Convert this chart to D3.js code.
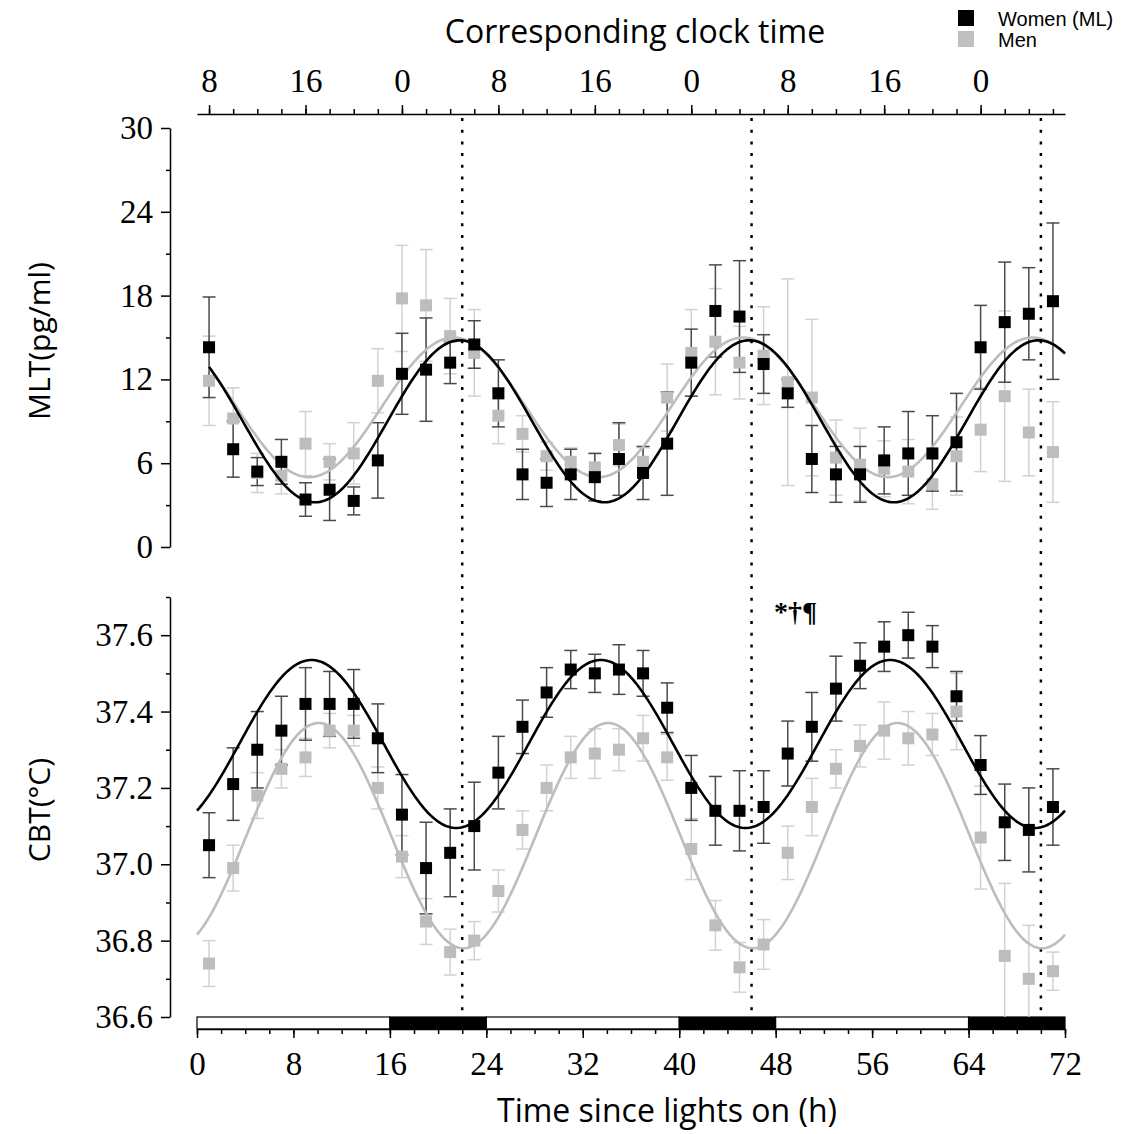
<!DOCTYPE html>
<html>
<head>
<meta charset="utf-8">
<script src="https://cdn.jsdelivr.net/npm/d3@7"></script>
<style>
  body { margin: 0; background: #fff; }
  text { fill: #000; }
</style>
</head>
<body>
<svg id="chart" width="1135" height="1134"></svg>
<script>
// sampling times (h since lights on)
const timePoints = [1,3,5,7,9,11,13,15,17,19,21,23,25,27,29,31,33,35,37,39,41,43,45,47,49,51,53,55,57,59,61,63,65,67,69,71];

// melatonin (pg/ml), mean and SE
const mltWomen   = [14.3,7.0,5.4,6.1,3.4,4.1,3.3,6.2,12.4,12.7,13.2,14.5,11.0,5.2,4.6,5.2,5.0,6.3,5.3,7.4,13.2,16.9,16.5,13.1,11.0,6.3,5.2,5.2,6.2,6.7,6.7,7.5,14.3,16.1,16.7,17.6];
const mltWomenSE = [3.6,2.0,1.0,1.6,1.2,2.2,1.0,2.7,2.9,3.7,1.5,1.7,2.4,1.8,1.7,1.8,1.7,2.6,1.9,3.7,2.4,3.3,4.0,2.1,1.0,2.4,2.0,2.0,2.4,3.0,2.7,3.5,3.0,4.3,3.3,5.6];
const mltMen     = [11.9,9.2,5.3,5.1,7.4,6.1,6.7,11.9,17.8,17.3,15.1,13.9,9.4,8.1,6.5,6.1,5.7,7.3,6.1,10.7,13.9,14.7,13.2,13.7,11.8,10.7,6.4,5.9,5.6,5.4,4.5,6.5,8.4,10.8,8.2,6.8];
const mltMenSE   = [3.2,2.2,1.4,1.3,2.3,1.3,2.2,2.3,3.8,4.0,2.7,3.1,2.0,1.3,1.0,1.0,1.0,1.5,1.0,2.4,3.1,3.8,2.6,3.5,7.4,5.6,2.7,2.6,2.0,2.3,1.8,2.8,3.0,6.1,3.1,3.6];

// core body temperature (°C), mean and SE
const cbtWomen   = [37.05,37.21,37.30,37.35,37.42,37.42,37.42,37.33,37.13,36.99,37.03,37.10,37.24,37.36,37.45,37.51,37.50,37.51,37.50,37.41,37.20,37.14,37.14,37.15,37.29,37.36,37.46,37.52,37.57,37.60,37.57,37.44,37.26,37.11,37.09,37.15];
const cbtWomenSE = [0.085,0.095,0.10,0.09,0.095,0.085,0.09,0.09,0.105,0.12,0.115,0.115,0.095,0.07,0.065,0.05,0.05,0.065,0.06,0.065,0.085,0.09,0.105,0.095,0.085,0.09,0.085,0.06,0.065,0.06,0.055,0.065,0.077,0.10,0.11,0.10];
const cbtMen     = [36.74,36.99,37.18,37.25,37.28,37.35,37.35,37.20,37.02,36.85,36.77,36.80,36.93,37.09,37.20,37.28,37.29,37.30,37.33,37.28,37.04,36.84,36.73,36.79,37.03,37.15,37.25,37.31,37.35,37.33,37.34,37.40,37.07,36.76,36.70,36.72];
const cbtMenSE   = [0.06,0.06,0.06,0.05,0.05,0.045,0.04,0.055,0.055,0.06,0.06,0.05,0.055,0.05,0.06,0.055,0.065,0.055,0.06,0.06,0.08,0.065,0.065,0.065,0.07,0.075,0.05,0.055,0.075,0.07,0.055,0.10,0.135,0.19,0.14,0.05];

// cosinor fits, [women, men]
const groups        = ["Women (ML)", "Men"];
const mltMesor      = [9.0, 10.0];
const mltAmplitude  = [5.8, 5.0];
const mltAcrophase  = [21.8, 21.3];
const cbtMesor      = [37.315, 37.075];
const cbtAmplitude  = [0.22, 0.295];
const cbtAcrophase  = [9.5, 10.1];
const mltFitRange   = [1, 72];
const cbtFitRange   = [0, 72];

// dotted reference lines, light/dark schedule, clock ticks
const markerTimes   = [22, 46, 70];
const lightStart    = [0, 16, 24, 40, 48, 64];
const lightEnd      = [16, 24, 40, 48, 64, 72];
const lightDark     = [false, true, false, true, false, true];
const clockTicks    = [1, 9, 17, 25, 33, 41, 49, 57, 65];
const clockLabels   = ["8","16","0","8","16","0","8","16","0"];
const hourTicks     = [0, 8, 16, 24, 32, 40, 48, 56, 64, 72];
const mltTicks      = [0, 6, 12, 18, 24, 30];
const cbtTicks      = [36.6, 36.8, 37.0, 37.2, 37.4, 37.6];

const svg = d3.select("#chart");
const serif = "'Liberation Serif', 'Times New Roman', serif";
const sans = "'Open Sans', sans-serif";

const x = d3.scaleLinear().domain([0, 72]).range([197, 1065]);
const yM = d3.scaleLinear().domain([0, 30]).range([547, 128]);
const yC = d3.scaleLinear().domain([36.6, 37.7]).range([1017, 597]);
const axisX = 170;

const colW = "#000", colM = "#bdbdbd";
const errW = "#4a4a4a", errM = "#d2d2d2";

const defs = svg.append("defs");
defs.append("clipPath").attr("id", "clipM").append("rect")
  .attr("x", axisX).attr("y", 128).attr("width", 900).attr("height", 547 - 128);
defs.append("clipPath").attr("id", "clipC").append("rect")
  .attr("x", axisX).attr("y", 597).attr("width", 900).attr("height", 1017 - 597);

function styleAxis(g, size) {
  g.selectAll("path.domain").attr("stroke", "#000").attr("stroke-width", 1.5);
  g.selectAll(".tick line").attr("stroke", "#000").attr("stroke-width", 1.5);
  g.selectAll("text").attr("font-family", serif).attr("font-size", size).attr("fill", "#000");
}

// y axes
function yAxis(scale, major, minor, fmt) {
  const gMin = svg.append("g").attr("transform", `translate(${axisX},0)`)
    .call(d3.axisLeft(scale).tickValues(minor).tickSize(4).tickSizeOuter(0).tickFormat(""));
  styleAxis(gMin, 33);
  gMin.select("path.domain").remove();
  const g = svg.append("g").attr("transform", `translate(${axisX},0)`)
    .call(d3.axisLeft(scale).tickValues(major).tickSize(9).tickSizeOuter(0).tickPadding(8).tickFormat(fmt));
  styleAxis(g, 33);
}
yAxis(yM, mltTicks, [3, 9, 15, 21, 27], d3.format("d"));
yAxis(yC, cbtTicks, [36.7, 36.9, 37.1, 37.3, 37.5, 37.7], d3.format(".1f"));

// top clock time axis
const gTopMin = svg.append("g").attr("transform", "translate(0,114)")
  .call(d3.axisTop(x).tickValues(d3.range(1, 72, 2)).tickSize(5).tickSizeOuter(0).tickFormat(""));
styleAxis(gTopMin, 33);
const gTop = svg.append("g").attr("transform", "translate(0,114)")
  .call(d3.axisTop(x).tickValues(clockTicks).tickSize(9).tickSizeOuter(0).tickPadding(13)
    .tickFormat((d, i) => clockLabels[i]));
styleAxis(gTop, 33);
gTop.select("path.domain").remove();

// light/dark bar
svg.append("g").selectAll("rect").data(lightStart).join("rect")
  .attr("x", (d) => x(d)).attr("y", 1017)
  .attr("width", (d, i) => x(lightEnd[i]) - x(d)).attr("height", 12)
  .attr("fill", (d, i) => lightDark[i] ? "#000" : "#fff")
  .attr("stroke", "#000").attr("stroke-width", 1.2);

// bottom axis
const gBotMin = svg.append("g").attr("transform", "translate(0,1029)")
  .call(d3.axisBottom(x).tickValues(d3.range(0, 73, 2)).tickSize(5).tickSizeOuter(0).tickFormat(""));
styleAxis(gBotMin, 33);
const gBot = svg.append("g").attr("transform", "translate(0,1029)")
  .call(d3.axisBottom(x).tickValues(hourTicks).tickSize(9).tickSizeOuter(0).tickPadding(14));
styleAxis(gBot, 33);
gBot.select("path.domain").remove();

// dotted lines
svg.append("g").selectAll("line").data(markerTimes).join("line")
  .attr("x1", (d) => x(d)).attr("x2", (d) => x(d))
  .attr("y1", 118).attr("y2", 1017)
  .attr("stroke", "#000").attr("stroke-width", 2.5).attr("stroke-dasharray", "3,8.7");

// panels
function panel(y, clip, women, womenSE, men, menSE, mesor, amp, acro, range) {
  const g = svg.append("g").attr("clip-path", `url(#${clip})`);
  const series = [
    { v: men, se: menSE, col: colM, err: errM },
    { v: women, se: womenSE, col: colW, err: errW }
  ];
  const cap = 6.5, sq = 12;
  series.forEach((s) => {
    const eb = g.append("g").attr("stroke", s.err).attr("stroke-width", 1.5);
    timePoints.forEach((t, i) => {
      const cx = x(t), top = y(s.v[i] + s.se[i]), bot = y(s.v[i] - s.se[i]);
      eb.append("line").attr("x1", cx).attr("x2", cx).attr("y1", top).attr("y2", bot);
      eb.append("line").attr("x1", cx - cap).attr("x2", cx + cap).attr("y1", top).attr("y2", top);
      eb.append("line").attr("x1", cx - cap).attr("x2", cx + cap).attr("y1", bot).attr("y2", bot);
    });
  });
  const line = d3.line().x((d) => x(d[0])).y((d) => y(d[1]));
  const ts = d3.range(range[0], range[1] + 0.001, 0.2);
  const drawSeries = (k) => {
    const s = series[k];
    const gi = k === 0 ? 1 : 0; // fit index: women 0, men 1
    g.append("g").selectAll("rect").data(timePoints).join("rect")
      .attr("x", (t) => x(t) - sq / 2).attr("y", (t, i) => y(s.v[i]) - sq / 2)
      .attr("width", sq).attr("height", sq).attr("fill", s.col);
    return gi;
  };
  drawSeries(0);
  [1, 0].forEach((gi) => {
    const pts = ts.map((t) => [t, mesor[gi] + amp[gi] * Math.cos(2 * Math.PI * (t - acro[gi]) / 24)]);
    g.append("path").datum(pts).attr("d", line).attr("fill", "none")
      .attr("stroke", gi === 0 ? "#000" : "#bdbdbd").attr("stroke-width", 2.6);
  });
  drawSeries(1);
}
panel(yM, "clipM", mltWomen, mltWomenSE, mltMen, mltMenSE, mltMesor, mltAmplitude, mltAcrophase, mltFitRange);
panel(yC, "clipC", cbtWomen, cbtWomenSE, cbtMen, cbtMenSE, cbtMesor, cbtAmplitude, cbtAcrophase, cbtFitRange);

// titles
svg.append("text").attr("x", 635).attr("y", 43).attr("text-anchor", "middle")
  .attr("font-family", sans).attr("font-size", 32).text("Corresponding clock time");
svg.append("text").attr("x", 667).attr("y", 1122).attr("text-anchor", "middle")
  .attr("font-family", sans).attr("font-size", 32).text("Time since lights on (h)");
svg.append("text").attr("transform", "translate(50,341) rotate(-90)").attr("text-anchor", "middle")
  .attr("font-family", sans).attr("font-size", 30).text("MLT(pg/ml)");
svg.append("text").attr("transform", "translate(50,810) rotate(-90)").attr("text-anchor", "middle")
  .attr("font-family", sans).attr("font-size", 30).text("CBT(°C)");

// significance marks
svg.append("text").attr("x", 774).attr("y", 621)
  .attr("font-family", serif).attr("font-size", 28).attr("font-weight", "bold").text("*†¶");

// legend
const legend = svg.append("g").attr("transform", "translate(958,10)");
groups.forEach((name, i) => {
  legend.append("rect").attr("x", 0).attr("y", i * 21).attr("width", 16).attr("height", 16)
    .attr("fill", i === 0 ? colW : "#c0c0c0");
  legend.append("text").attr("x", 40).attr("y", i * 21 + 16)
    .attr("font-family", "'Liberation Sans', Arial, sans-serif").attr("font-size", 20)
    .attr("fill", "#222").text(name);
});
</script>
</body>
</html>
